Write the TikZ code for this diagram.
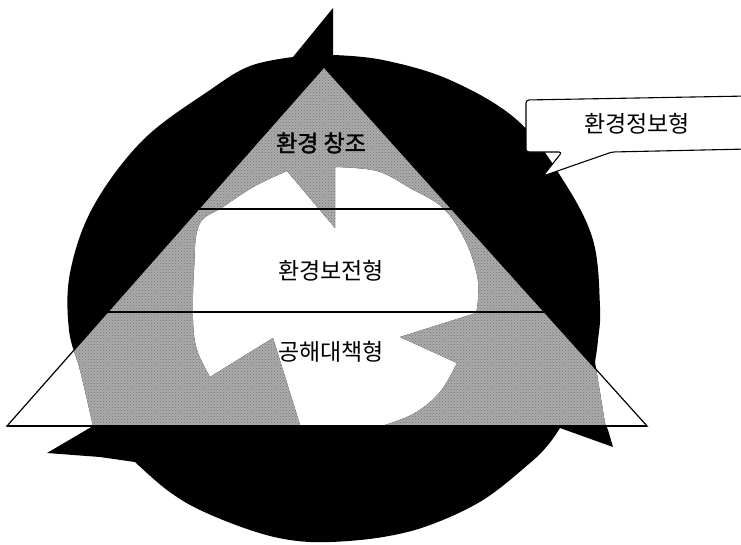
\documentclass[tikz,border=0pt]{standalone}
\usepackage{fontspec}
\newfontfamily\kr{Noto Sans CJK KR}
\newfontfamily\krb[FakeBold=1.6]{Noto Sans CJK KR}
\usetikzlibrary{calc,patterns}
\tikzset{
  ringfill/.style={fill=black},
  hatchfill/.style={fill=black!33},
  hatchlines/.style={pattern=crosshatch dots, pattern color=black!55},
  edge/.style={draw=black, line width=1.2pt},
  layerline/.style={draw=black, line width=1.5pt},
  label/.style={font=\kr\fontsize{23}{23}\selectfont, inner sep=0pt, text=black},
  boldlabel/.style={font=\krb\fontsize{23}{23}\selectfont, inner sep=0pt, text=black},
  bubble/.style={draw=black, line width=1.1pt, fill=white, rounded corners=3pt}
}
\begin{document}
\begin{tikzpicture}[x=1pt,y=-1pt]
\useasboundingbox (0,0) rectangle (741,544);
\clip (0,0) rectangle (741,544);
\def\outerpath{(333,8) -- (333,55)
  -- plot[smooth, tension=0.6] coordinates {(333,55) (383,60) (450,80) (517,120) (563,180) (593,240) (600,307) (598,340) (595,362)}
  -- (605,423) -- (608,430) -- (613,447) -- (560,428)
  -- plot[smooth, tension=0.6] coordinates {(560,428) (548,445) (530,463) (483,500) (430,525) (383,537) (330,542) (290,540) (250,530) (200,510) (167,490) (135,462)}
  -- (100,457) -- (47,453) -- (93,426)
  -- plot[smooth, tension=0.6] coordinates {(93,426) (80,370) (69,330) (70,273) (93,207) (143,140) (210,90) (250,66) (293,57)}
  -- cycle}
\def\holepath{(335,228) -- (335,167)
  -- plot[smooth, tension=0.6] coordinates {(335,167) (377,171) (410,188) (443,208) (465,240) (477,275) (478,300) (476,313)}
  -- (400,337) -- (457,363)
  -- plot[smooth, tension=0.6] coordinates {(457,363) (440,392) (415,413) (385,425)}
  -- (300,425) -- (273,338) -- (210,377)
  -- plot[smooth, tension=0.6] coordinates {(210,377) (197,350) (193,320) (194,270) (199,225) (223,207) (255,186) (287,171)}
  -- cycle}
% triangle corners
\coordinate (A) at (324,67);
\coordinate (B) at (7,426);
\coordinate (C) at (647,426);
% black ring of arrows
\fill[ringfill, even odd rule] \outerpath \holepath;
% hatched part inside the triangle
\begin{scope}
  \clip (A) -- (B) -- (C) -- cycle;
  \fill[hatchfill, even odd rule] \outerpath \holepath;
  \fill[hatchlines, even odd rule] \outerpath \holepath;
\end{scope}
% triangle and layers
\draw[edge] (A) -- (B) -- (C) -- cycle;
\coordinate (L1) at ($(A)!0.3955!(B)$);
\coordinate (R1) at ($(A)!0.3955!(C)$);
\coordinate (L2) at ($(A)!0.6825!(B)$);
\coordinate (R2) at ($(A)!0.6825!(C)$);
\draw[layerline] (L1) -- (R1);
\draw[layerline] (L2) -- (R2);
\draw[layerline] (B) -- (C);
% labels
\node[boldlabel] (top) at (321,143) {환경 창조};
\node[label] (mid) at (331,271) {환경보전형};
\node[label] (low) at (331,352) {공해대책형};
% callout
\draw[bubble] (562,152) -- (526,152) -- (526,100) -- (748,96) -- (748,149) -- (612,152) -- (543,176) -- cycle;
\node[label] (info) at (637,124) {환경정보형};
\end{tikzpicture}
\end{document}
